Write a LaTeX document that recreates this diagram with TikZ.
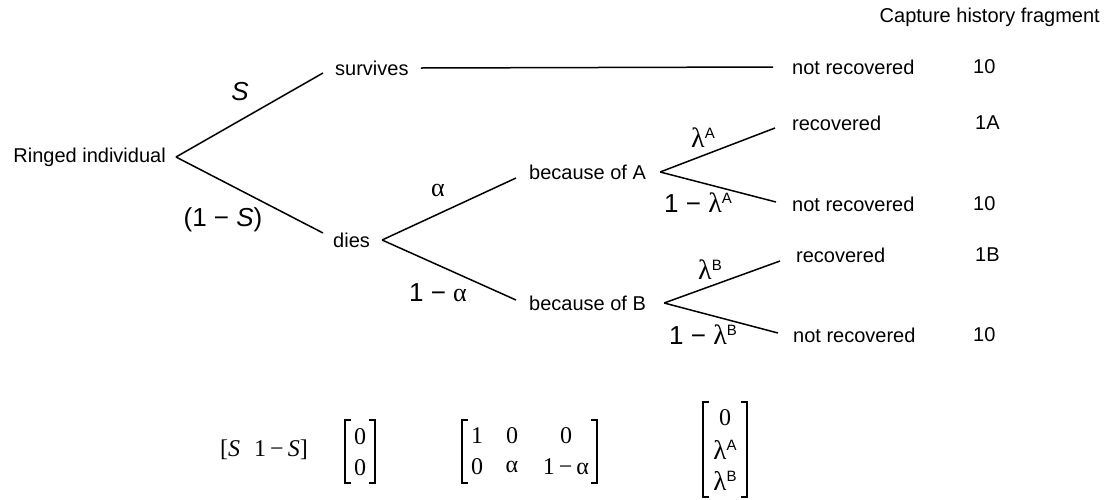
\documentclass[tikz,border=0pt]{standalone}
\usepackage{fontspec}
\setmainfont{Liberation Sans}
\newfontfamily\tms{Liberation Serif}
\newcommand{\gr}[1]{{\tms #1}}
\newcommand{\sps}[1]{\raisebox{9pt}{\fontsize{15}{17}\selectfont\normalfont #1}}
\begin{document}
\begin{tikzpicture}[x=1pt,y=-1pt,
  txt/.style={inner sep=0pt, font=\fontsize{20}{24}\selectfont},
  lab/.style={inner sep=0pt, font=\fontsize{26}{30}\selectfont},
  laml/.style={inner sep=0pt, font=\fontsize{28}{30}\selectfont},
  matx/.style={inner sep=0pt, font=\fontsize{24}{28}\selectfont\tms},
  matl/.style={inner sep=0pt, font=\fontsize{27}{30}\selectfont\tms},
  edge/.style={line width=1.5pt},
  brk/.style={line width=1.2pt}]
\path[use as bounding box] (0,0) rectangle (1104,499);

% header
\node[txt, anchor=east] (hdr) at (1100,17) {Capture history fragment};

% tree nodes
\node[txt, anchor=east] (root) at (166,157) {Ringed individual};
\node[txt, anchor=west] (surv) at (335,68) {survives};
\node[txt, anchor=west] (dies) at (333,240) {dies};
\node[txt, anchor=west] (becA) at (529,172) {because of A};
\node[txt, anchor=west] (becB) at (529,303) {because of B};
\node[txt, anchor=west] (nr0) at (792,67) {not recovered};
\node[txt, anchor=west] (recA) at (792,123) {recovered};
\node[txt, anchor=west] (nrA) at (792,204) {not recovered};
\node[txt, anchor=west] (recB) at (796,255) {recovered};
\node[txt, anchor=west] (nrB) at (793,335) {not recovered};

% capture history codes
\node[txt, anchor=west] (c0) at (973,67) {10};
\node[txt, anchor=west] (cA) at (975,123) {1A};
\node[txt, anchor=west] (cnA) at (973,204) {10};
\node[txt, anchor=west] (cB) at (975,255) {1B};
\node[txt, anchor=west] (cnB) at (973,335) {10};

% connectors
\draw[edge] ([xshift=10pt]root.east) -- ([xshift=-12pt,yshift=-5pt]surv.west);
\draw[edge] ([xshift=10pt]root.east) -- ([xshift=-10pt,yshift=7pt]dies.west);
\draw[edge] ([xshift=12pt]surv.east) -- ([xshift=-19pt]nr0.west);
\draw[edge] ([xshift=12pt]dies.east) -- ([xshift=-13pt,yshift=-6pt]becA.west);
\draw[edge] ([xshift=12pt]dies.east) -- ([xshift=-13pt,yshift=3pt]becB.west);
\draw[edge] ([xshift=14pt]becA.east) -- ([xshift=-17pt,yshift=-5pt]recA.west);
\draw[edge] ([xshift=14pt]becA.east) -- ([xshift=-16pt,yshift=2pt]nrA.west);
\draw[edge] ([xshift=18pt]becB.east) -- ([xshift=-16pt,yshift=-6pt]recB.west);
\draw[edge] ([xshift=18pt]becB.east) -- ([xshift=-15pt,yshift=2pt]nrB.west);

% branch labels
\node[lab] (lS) at (240,92) {\itshape S};
\node[lab] (l1S) at (223,220) {(1 − {\itshape S})};
\node[lab] (la) at (438,190) {\gr{α}};
\node[lab] (l1a) at (438,293) {1 − \gr{α}};
\node[lab] (llA) at (703,138) {{\fontsize{28}{30}\selectfont\gr{λ}}\sps{A}};
\node[lab] (l1lA) at (698,203) {1 − {\fontsize{28}{30}\selectfont\gr{λ}}\sps{A}};
\node[lab] (llB) at (710,270) {{\fontsize{28}{30}\selectfont\gr{λ}}\sps{B}};
\node[lab] (l1lB) at (703,335) {1 − {\fontsize{28}{30}\selectfont\gr{λ}}\sps{B}};

% matrices
\node[matx] (m1) at (264,450) {[\textit{S}\hspace{14pt}1\,−\,\textit{S}]};

\node[matx] (m2a) at (360,437) {0};
\node[matx] (m2b) at (360,468) {0};
\draw[brk] (351,420) -- (345,420) -- (345,483) -- (351,483);
\draw[brk] (369,420) -- (375,420) -- (375,483) -- (369,483);

\node[matx] (m3a) at (477,436) {1};
\node[matx] (m3b) at (512,436) {0};
\node[matx] (m3c) at (566,436) {0};
\node[matx] (m3d) at (477,467) {0};
\node[matx] (m3e) at (512,467) {α};
\node[matx] (m3f) at (566,467) {1\,−\,α};
\draw[brk] (468,420) -- (462,420) -- (462,483) -- (468,483);
\draw[brk] (591,420) -- (597,420) -- (597,483) -- (591,483);

\node[matx] (m4a) at (725,418) {0};
\node[matl] (m4b) at (725,450) {λ\sps{A}};
\node[matl] (m4c) at (725,481) {λ\sps{B}};
\draw[brk] (709,402) -- (703,402) -- (703,497) -- (709,497);
\draw[brk] (741,402) -- (747,402) -- (747,497) -- (741,497);
\end{tikzpicture}
\end{document}
